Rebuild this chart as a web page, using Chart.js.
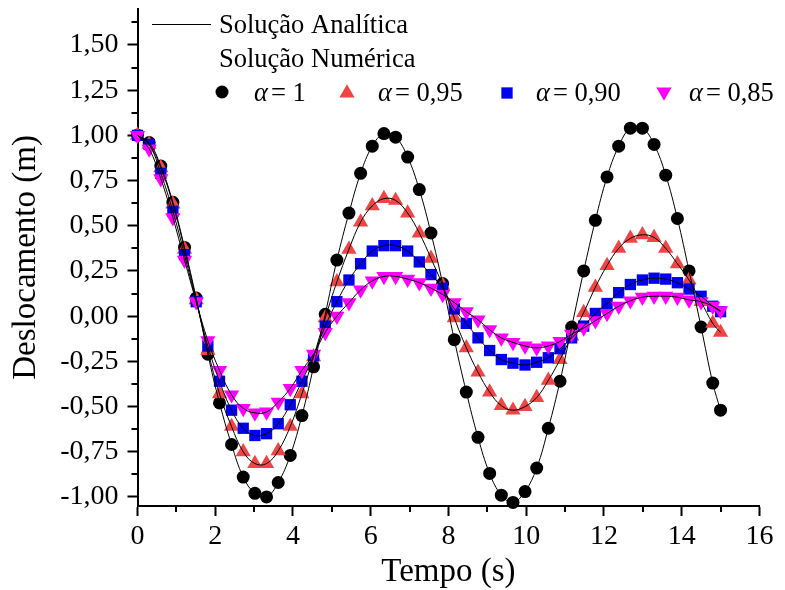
<!DOCTYPE html>
<html>
<head>
<meta charset="utf-8">
<script src="https://cdn.jsdelivr.net/npm/chart.js@4.4.1/dist/chart.umd.min.js"></script>
<style>
  html, body { margin: 0; padding: 0; background: #fff; }
  #wrap { width: 785px; height: 590px; }
</style>
</head>
<body>
<div id="wrap"><canvas id="myChart" width="785" height="590"></canvas></div>
<script>
// time samples (s)
const times = [
  0, 0.30, 0.60, 0.91, 1.21, 1.51, 1.81, 2.11, 2.42, 2.72,
  3.02, 3.32, 3.62, 3.93, 4.23, 4.53, 4.83, 5.13, 5.44, 5.74,
  6.04, 6.34, 6.64, 6.95, 7.25, 7.55, 7.85, 8.15, 8.46, 8.76,
  9.06, 9.36, 9.66, 9.97, 10.27, 10.57, 10.87, 11.17, 11.48, 11.78,
  12.08, 12.38, 12.68, 12.99, 13.29, 13.59, 13.89, 14.19, 14.50, 14.80,
  15.00
];

// deslocamento (m) for each alpha
const alpha100 = [
  1.00, 0.96, 0.83, 0.63, 0.38, 0.10, -0.21, -0.48, -0.71, -0.89,
  -0.98, -1.00, -0.92, -0.77, -0.55, -0.28, 0.01, 0.31, 0.57, 0.79,
  0.94, 1.01, 0.99, 0.88, 0.70, 0.46, 0.18, -0.13, -0.42, -0.67,
  -0.87, -0.99, -1.03, -0.97, -0.84, -0.62, -0.36, -0.06, 0.25, 0.53,
  0.77, 0.94, 1.04, 1.04, 0.95, 0.78, 0.54, 0.25, -0.06, -0.37,
  -0.52
];
const alpha095 = [
  1.00, 0.95, 0.82, 0.62, 0.37, 0.09, -0.19, -0.43, -0.61, -0.75,
  -0.815, -0.815, -0.745, -0.61, -0.43, -0.225, -0.01, 0.19, 0.37, 0.52,
  0.61, 0.65, 0.64, 0.57, 0.46, 0.32, 0.17, -0.01, -0.175, -0.31,
  -0.42, -0.495, -0.52, -0.50, -0.45, -0.355, -0.24, -0.11, 0.02, 0.16,
  0.28, 0.375, 0.43, 0.45, 0.435, 0.375, 0.29, 0.20, 0.08, -0.04,
  -0.09
];
const alpha090 = [
  1.00, 0.95, 0.79, 0.58, 0.34, 0.08, -0.165, -0.36, -0.52, -0.62,
  -0.66, -0.65, -0.595, -0.49, -0.36, -0.22, -0.055, 0.08, 0.20, 0.29,
  0.36, 0.39, 0.39, 0.36, 0.30, 0.23, 0.155, 0.04, -0.04, -0.12,
  -0.19, -0.24, -0.26, -0.27, -0.255, -0.23, -0.18, -0.12, -0.055, 0.015,
  0.07, 0.13, 0.175, 0.20, 0.21, 0.205, 0.185, 0.15, 0.11, 0.055,
  0.025
];
const alpha085 = [
  1.00, 0.925, 0.76, 0.545, 0.31, 0.08, -0.135, -0.30, -0.435, -0.51,
  -0.535, -0.53, -0.475, -0.40, -0.30, -0.21, -0.09, 0.00, 0.075, 0.145,
  0.195, 0.22, 0.22, 0.205, 0.185, 0.155, 0.12, 0.075, 0.025, -0.02,
  -0.075, -0.12, -0.145, -0.165, -0.175, -0.165, -0.14, -0.10, -0.065, -0.025,
  0.015, 0.055, 0.085, 0.105, 0.11, 0.11, 0.105, 0.09, 0.08, 0.055,
  0.03
];

const xTicks = [0, 2, 4, 6, 8, 10, 12, 14, 16];
const xMinorTicks = [1, 3, 5, 7, 9, 11, 13, 15];
const yTicks = [-1.00, -0.75, -0.50, -0.25, 0.00, 0.25, 0.50, 0.75, 1.00, 1.25, 1.50];
const yMinorTicks = [-0.875, -0.625, -0.375, -0.125, 0.125, 0.375, 0.625, 0.875, 1.125, 1.375, 1.625];

const seriesLabels = ['= 1', '= 0,95', '= 0,90', '= 0,85'];
const legendTitles = ['Solução Analítica', 'Solução Numérica'];

const SERIF = "'Liberation Serif', 'Times New Roman', serif";

const toPoints = (arr) => times.map((t, i) => ({x: t, y: arr[i]}));

const markers = [
  {data: alpha100, color: '#000000', style: 'circle', radius: 6.5, rotation: 0, order: 4},
  {data: alpha095, color: '#EF4545', style: 'triangle', radius: 8.8, rotation: 0, order: 3},
  {data: alpha090, color: '#0000F5', style: 'rect', radius: 8, rotation: 0, order: 2},
  {data: alpha085, color: '#FF00FF', style: 'triangle', radius: 8.8, rotation: 180, order: 1}
];

const datasets = [];
markers.forEach((m, k) => {
  // analytic solution (thin black curve)
  datasets.push({
    label: 'analitica ' + k,
    data: toPoints(m.data),
    showLine: true,
    borderColor: '#000',
    borderWidth: 1,
    tension: 0.4,
    pointRadius: 0,
    order: 0
  });
});
markers.forEach((m, k) => {
  datasets.push({
    label: seriesLabels[k],
    data: toPoints(m.data),
    showLine: false,
    pointStyle: m.style,
    pointRadius: m.radius,
    pointRotation: m.rotation,
    pointBackgroundColor: m.color,
    pointBorderColor: m.color,
    pointBorderWidth: 0,
    clip: false,
    order: m.order
  });
});

const minorTicks = {
  id: 'minorTicks',
  beforeDatasetsDraw(chart) {
    const {ctx, scales: {x, y}, chartArea} = chart;
    ctx.save();
    ctx.strokeStyle = '#000';
    ctx.lineWidth = 2;
    ctx.beginPath();
    xMinorTicks.forEach(v => {
      const px = Math.round(x.getPixelForValue(v));
      ctx.moveTo(px, chartArea.bottom);
      ctx.lineTo(px, chartArea.bottom + 6);
    });
    yMinorTicks.forEach(v => {
      const py = Math.round(y.getPixelForValue(v));
      ctx.moveTo(chartArea.left, py);
      ctx.lineTo(chartArea.left - 6, py);
    });
    ctx.stroke();
    ctx.restore();
  }
};

function drawSymbol(ctx, m, x, y) {
  ctx.fillStyle = m.color;
  ctx.strokeStyle = m.color;
  Chart.helpers.drawPoint(ctx, {pointStyle: m.style, radius: m.radius, rotation: m.rotation, borderWidth: 0}, x, y);
}

const originLegend = {
  id: 'originLegend',
  afterDraw(chart) {
    const ctx = chart.ctx;
    ctx.save();
    ctx.strokeStyle = '#000';
    ctx.lineWidth = 1;
    ctx.beginPath();
    ctx.moveTo(152, 24.5);
    ctx.lineTo(211, 24.5);
    ctx.stroke();

    ctx.fillStyle = '#000';
    ctx.textBaseline = 'alphabetic';
    ctx.textAlign = 'left';
    ctx.font = '26.5px ' + SERIF;
    ctx.fillText(legendTitles[0], 219, 33);
    ctx.fillText(legendTitles[1], 219, 67);

    const spots = [
      {sx: 222, sy: 92, lx: 254},
      {sx: 347, sy: 93, lx: 378},
      {sx: 507, sy: 93, lx: 536},
      {sx: 664, sy: 92, lx: 689}
    ];
    spots.forEach((s, k) => {
      drawSymbol(ctx, markers[k], s.sx, s.sy);
      ctx.fillStyle = '#000';
      ctx.font = 'italic 26.5px ' + SERIF;
      ctx.fillText('α', s.lx, 101);
      const w = ctx.measureText('α').width;
      ctx.font = '26.5px ' + SERIF;
      ctx.fillText(seriesLabels[k], s.lx + w + 3, 101);
    });
    ctx.restore();
  }
};

const config = {
  type: 'scatter',
  data: {datasets: datasets},
  options: {
    responsive: false,
    animation: false,
    devicePixelRatio: 1,
    layout: {padding: {left: 0, top: 6, right: 25.6, bottom: 0}},
    plugins: {
      legend: {display: false},
      tooltip: {enabled: false}
    },
    scales: {
      x: {
        type: 'linear',
        min: 0,
        max: 16,
        afterBuildTicks: (scale) => { scale.ticks = xTicks.map(v => ({value: v})); },
        afterFit: (scale) => {
          scale.height = 84;
          scale.paddingLeft = 0;
          scale.paddingRight = 0;
        },
        ticks: {
          color: '#000',
          padding: 7,
          font: {family: SERIF, size: 28, lineHeight: 1},
          callback: (v) => String(v)
        },
        grid: {display: true, drawOnChartArea: false, drawTicks: true, tickLength: 10, tickWidth: 2, tickColor: '#000'},
        border: {display: true, color: '#000', width: 2},
        title: {display: true, text: 'Tempo (s)', color: '#000', padding: {top: 0, bottom: 1.5}, font: {family: SERIF, size: 33, lineHeight: 1}}
      },
      y: {
        type: 'linear',
        min: -1.05,
        max: 1.70,
        afterBuildTicks: (scale) => { scale.ticks = yTicks.map(v => ({value: v})); },
        afterFit: (scale) => {
          scale.width = 137.5;
          scale.paddingTop = 0;
          scale.paddingBottom = 0;
        },
        ticks: {
          color: '#000',
          padding: 9,
          font: {family: SERIF, size: 28, lineHeight: 1},
          callback: (v) => v.toFixed(2).replace('.', ',')
        },
        grid: {display: true, drawOnChartArea: false, drawTicks: true, tickLength: 10, tickWidth: 2, tickColor: '#000'},
        border: {display: true, color: '#000', width: 2},
        title: {display: true, text: 'Deslocamento (m)', color: '#000', padding: {top: 10, bottom: 0}, font: {family: SERIF, size: 33, lineHeight: 1}}
      }
    }
  },
  plugins: [minorTicks, originLegend]
};

const myChart = new Chart(document.getElementById('myChart').getContext('2d'), config);
</script>
</body>
</html>
